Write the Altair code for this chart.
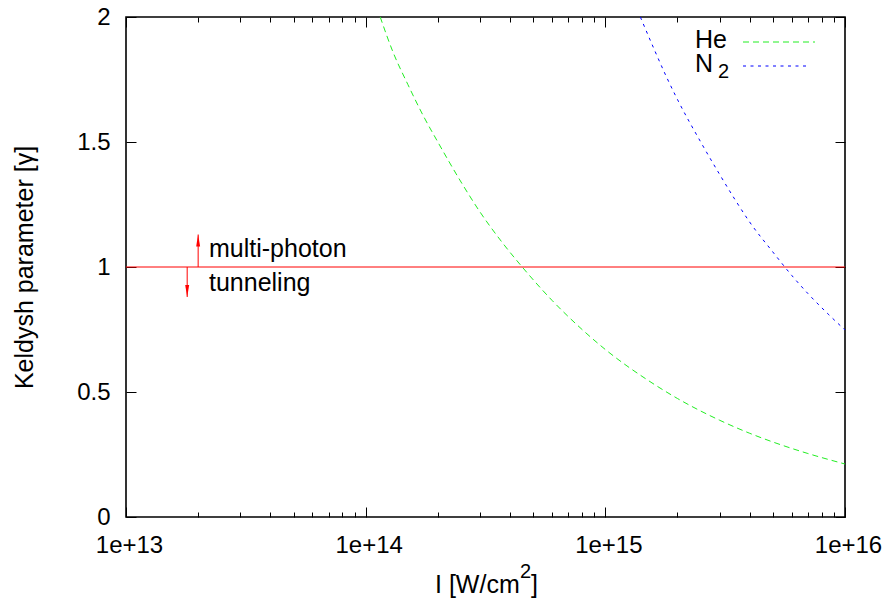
import altair as alt
import pandas as pd

# ---- data ----
he_intensity = [1.15e14, 1.3e14, 1.5e14, 1.75e14, 2e14, 2.5e14, 3e14, 3.7e14, 4.5e14,
                6e14, 8e14, 1e15, 1.5e15, 2e15, 3e15, 4e15, 5e15, 7e15, 1e16]
he_gamma = [2.0, 1.86, 1.73, 1.60, 1.50, 1.34, 1.22, 1.10, 1.0,
            0.866, 0.75, 0.67, 0.548, 0.474, 0.387, 0.335, 0.30, 0.254, 0.212]
n2_intensity = [1.4e15, 1.6e15, 1.8e15, 2e15, 2.5e15, 3e15, 3.5e15, 4e15, 5e15,
                6e15, 7e15, 8.5e15, 1e16]
n2_gamma = [2.0, 1.87, 1.76, 1.67, 1.50, 1.37, 1.265, 1.18, 1.06,
            0.966, 0.894, 0.812, 0.748]
x_major = [1e13, 1e14, 1e15, 1e16]
x_minor = [m * 10.0 ** e for e in (13, 14, 15) for m in range(2, 10)]
y_major = [0, 0.5, 1, 1.5, 2]
threshold = [1.0]
arrow_intensity = [2.0e13, 1.8e13]
arrow_start = [1.0, 1.0]
arrow_end = [1.13, 0.88]
label_intensity = [2.22e13, 2.22e13]
label_gamma = [1.04, 0.904]
label_text = ["multi-photon", "tunneling"]

FONT = "Liberation Sans"
FS = 24      # tick labels
FT = 25      # titles / annotations
W, H = 719, 500

he_df = pd.DataFrame({"I": he_intensity, "g": he_gamma})
n2_df = pd.DataFrame({"I": n2_intensity, "g": n2_gamma})
thr_df = pd.DataFrame({"g": threshold})
arr_df = pd.DataFrame({"I": arrow_intensity, "g0": arrow_start, "g1": arrow_end})
lab_df = pd.DataFrame({"I": label_intensity, "g": label_gamma, "t": label_text})
one = pd.DataFrame({"k": [0]})

xs = alt.Scale(type="log", domain=[1e13, 1e16], nice=False)
ys = alt.Scale(domain=[0, 2], nice=False)


def tick_axis(**kw):
    d = dict(title=None, labels=False, domain=False, grid=False, ticks=True,
             tickColor="black", tickWidth=1)
    d.update(kw)
    return alt.Axis(**d)


main_x_axis = alt.Axis(
    title=None, orient="bottom", values=x_major, format=".0e",
    labelFlush=False, labelOverlap=False, ticks=False, tickSize=0, labelPadding=16,
    labelOffset=3, domain=False, grid=False, labelFont=FONT, labelFontSize=FS,
    labelColor="black",
)
main_y_axis = alt.Axis(
    title="Keldysh parameter [γ]", orient="left", values=y_major, format="~g",
    labelOverlap=False, ticks=False, tickSize=0, labelPadding=16, domain=False, grid=False,
    labelFont=FONT, labelFontSize=FS, labelColor="black",
    titleFont=FONT, titleFontSize=FT, titleFontWeight="normal", titleColor="black",
    titleX=-94, titleY=250, titleAngle=270, titleBaseline="alphabetic", titleAlign="center",
)

he_line = alt.Chart(he_df).mark_line(
    color="#22ee22", strokeWidth=1, strokeDash=[6, 4], interpolate="monotone", clip=True
).encode(
    x=alt.X("I:Q", scale=xs, axis=main_x_axis),
    y=alt.Y("g:Q", scale=ys, axis=main_y_axis),
)
n2_line = alt.Chart(n2_df).mark_line(
    color="#0000ff", strokeWidth=1, strokeDash=[3, 4.5], interpolate="monotone", clip=True
).encode(
    x=alt.X("I:Q", scale=xs, axis=None),
    y=alt.Y("g:Q", scale=ys, axis=None),
)

thr_rule = alt.Chart(thr_df).mark_rule(color="#ff0000", strokeWidth=1).encode(
    y=alt.Y("g:Q", scale=ys, axis=None)
)

arrows = alt.Chart(arr_df).mark_rule(color="#ff0000", strokeWidth=1).encode(
    x=alt.X("I:Q", scale=xs, axis=None),
    y=alt.Y("g0:Q", scale=ys, axis=None),
    y2="g1:Q",
)
UP = "M0,0L-0.33,2L0.33,2Z"
DOWN = "M0,0L-0.33,-2L0.33,-2Z"
head_up = alt.Chart(arr_df.iloc[[0]]).mark_point(
    shape=UP, filled=True, color="#ff0000", size=144, opacity=1
).encode(
    x=alt.X("I:Q", scale=xs, axis=None),
    y=alt.Y("g1:Q", scale=ys, axis=None),
)
head_down = alt.Chart(arr_df.iloc[[1]]).mark_point(
    shape=DOWN, filled=True, color="#ff0000", size=144, opacity=1
).encode(
    x=alt.X("I:Q", scale=xs, axis=None),
    y=alt.Y("g1:Q", scale=ys, axis=None),
)

labels = alt.Chart(lab_df).mark_text(
    font=FONT, fontSize=FT, color="black", align="left", baseline="alphabetic"
).encode(
    x=alt.X("I:Q", scale=xs, axis=None),
    y=alt.Y("g:Q", scale=ys, axis=None),
    text="t:N",
)


# inward ticks (gnuplot style, mirrored)
def x_tick_layer(axis):
    return alt.Chart(he_df).mark_point(opacity=0).encode(
        x=alt.X("I:Q", scale=xs, axis=axis),
        y=alt.Y("g:Q", scale=ys, axis=None),
    )


def y_tick_layer(axis):
    return alt.Chart(he_df).mark_point(opacity=0).encode(
        x=alt.X("I:Q", scale=xs, axis=None),
        y=alt.Y("g:Q", scale=ys, axis=axis),
    )


tick_layers = [
    x_tick_layer(tick_axis(orient="top", offset=-H, values=x_major, tickSize=10)),
    x_tick_layer(tick_axis(orient="top", offset=-H, values=x_minor, tickSize=5)),
    x_tick_layer(tick_axis(orient="bottom", offset=-H, values=x_major, tickSize=10)),
    x_tick_layer(tick_axis(orient="bottom", offset=-H, values=x_minor, tickSize=5)),
    y_tick_layer(tick_axis(orient="right", offset=-W, values=y_major, tickSize=10)),
    y_tick_layer(tick_axis(orient="left", offset=-W, values=y_major, tickSize=10)),
]


def txt(text, x, y, size, align="left"):
    return alt.Chart(one).mark_text(
        text=text, font=FONT, fontSize=size, color="black", align=align,
        baseline="alphabetic"
    ).encode(x=alt.value(x), y=alt.value(y))


# x-axis title with a real superscript
x_title = [
    txt("I [W/cm", 309, 576, FT),
    txt("2", 394, 561, 20),
    txt("]", 405, 576, FT),
]

# manual key (gnuplot style: text then sample)
key_items = [
    txt("He", 601, 31, FT, align="right"),
    txt("N", 569, 55, FT),
    txt("2", 592, 61, 20),
    alt.Chart(one).mark_rule(color="#22ee22", strokeWidth=1, strokeDash=[6, 4]).encode(
        x=alt.value(617), x2=alt.value(689), y=alt.value(25)),
    alt.Chart(one).mark_rule(color="#0000ff", strokeWidth=1, strokeDash=[3, 4.5]).encode(
        x=alt.value(617), x2=alt.value(684), y=alt.value(49)),
]

chart = alt.layer(
    he_line, n2_line, thr_rule, arrows, head_up, head_down, labels,
    *tick_layers, *x_title, *key_items,
).resolve_axis(
    x="independent", y="independent"
).properties(
    width=W, height=H,
    autosize=alt.AutoSizeParams(type="none"),
    padding={"left": 126, "top": 17, "right": 42, "bottom": 82},
    background="white",
).configure_view(
    stroke="black", strokeWidth=1.6
)

chart.save("out.html", embed_options={"renderer": "svg", "actions": False})
